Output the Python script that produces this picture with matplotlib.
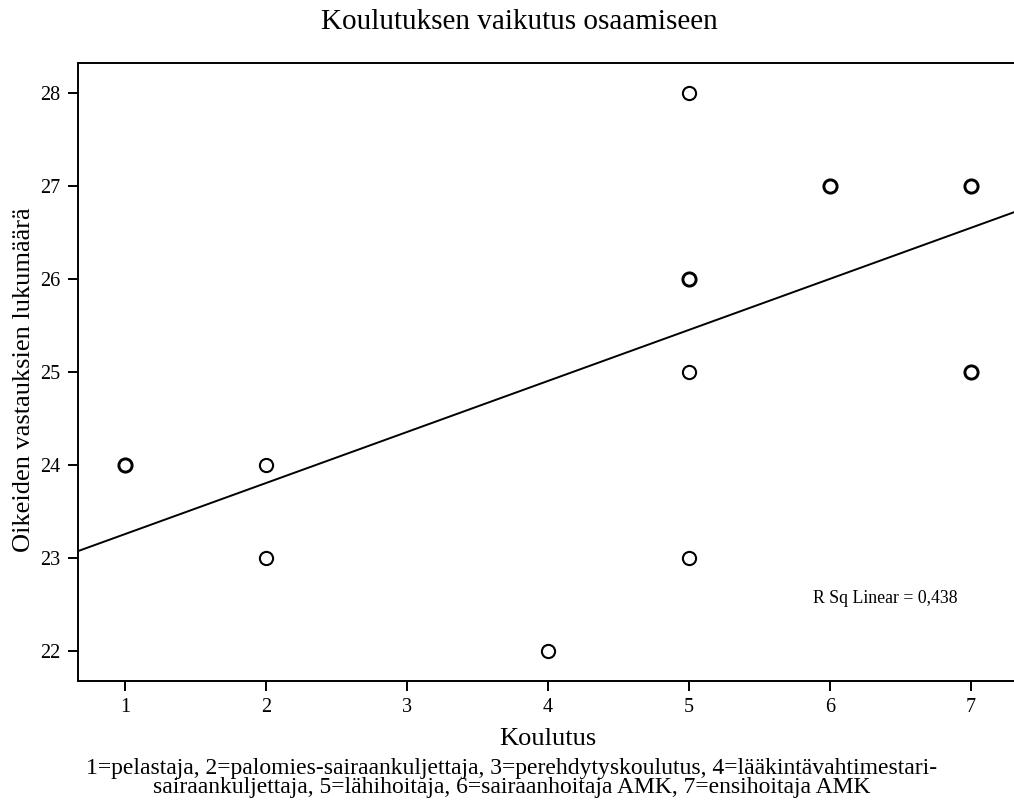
import matplotlib
matplotlib.use("Agg")
import matplotlib.pyplot as plt
import numpy as np

plt.rcParams['font.family'] = ['Liberation Serif', 'DejaVu Serif']

# Data (education level vs. correct answers)
koulutus = [1, 2, 2, 4, 5, 5, 5, 5, 6, 7, 7]
oikeat = [24, 24, 23, 22, 28, 26, 25, 23, 27, 27, 25]
duplicates = [2, 1, 1, 1, 1, 2, 1, 1, 2, 2, 2]

# Linear fit
fit_intercept = 22.71
fit_slope = 0.5485
r_sq_text = "R Sq Linear = 0,438"

x_ticks = [1, 2, 3, 4, 5, 6, 7]
y_ticks = [22, 23, 24, 25, 26, 27, 28]

title = "Koulutuksen vaikutus osaamiseen"
xlabel = "Koulutus"
ylabel = "Oikeiden vastauksien lukumäärä"
footnote = ("1=pelastaja, 2=palomies-sairaankuljettaja, 3=perehdytyskoulutus, 4=lääkintävahtimestari-\n"
            "sairaankuljettaja, 5=lähihoitaja, 6=sairaanhoitaja AMK, 7=ensihoitaja AMK")

fig = plt.figure(figsize=(10.14, 8.08), dpi=100)
ax = fig.add_axes([78/1014, 1-681/808, 940/1014, 618/808])

xlim = (1 - 1/3, 7 + 1/3)
ax.set_xlim(*xlim)
ax.set_ylim(21.68, 28.32)

# regression line
xs = np.array(xlim)
ax.plot(xs, fit_intercept + fit_slope * xs, color='black', lw=1.4, zorder=2)

# points
for x, y, d in zip(koulutus, oikeat, duplicates):
    ax.plot([x], [y], marker='o', ms=9.5, mfc='white', mec='black',
            mew=1.5 if d == 1 else 2.1, ls='none', zorder=3)

ax.text(0.782, 0.134, r_sq_text, transform=ax.transAxes, fontsize=12.8,
        ha='left', va='center')

ax.set_xticks(x_ticks)
ax.set_yticks(y_ticks)
ax.tick_params(direction='out', length=7.5, width=1.4, labelsize=14.5, pad=5)
for s in ax.spines.values():
    s.set_linewidth(1.4)

ax.set_xlabel(xlabel, fontsize=19, labelpad=8)
ax.set_ylabel(ylabel, fontsize=19)
ax.yaxis.set_label_coords(-0.046, 0.487)

fig.text(519/1014, 1-22/808, title, fontsize=21, ha='center', va='center')
fig.text(512/1014, 1-778/808, footnote, fontsize=17, ha='center', va='center',
         linespacing=0.82)

fig.savefig("out.png", dpi=100)
